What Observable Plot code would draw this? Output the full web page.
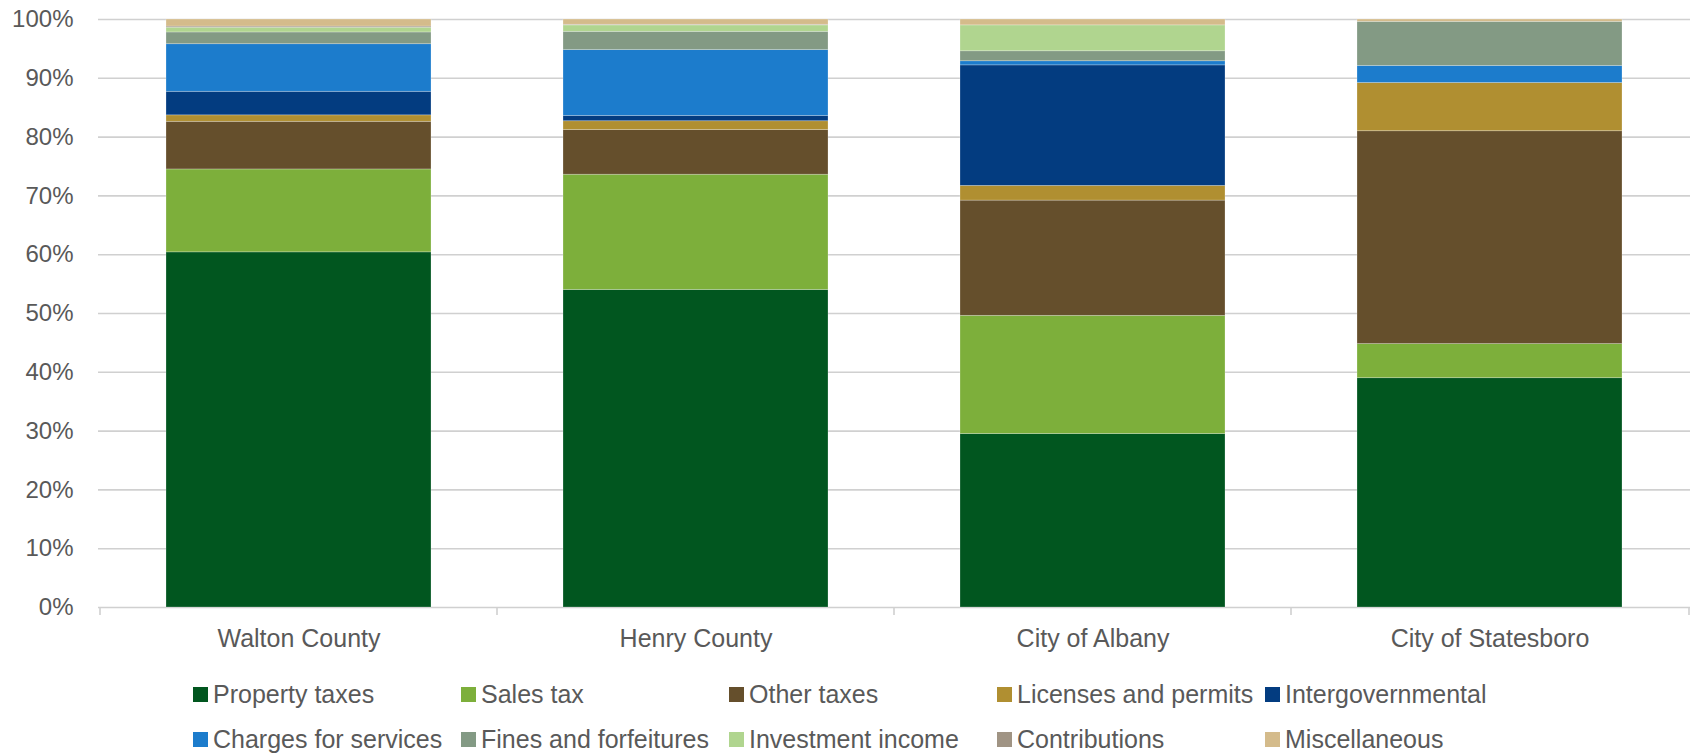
<!DOCTYPE html>
<html>
<head>
<meta charset="utf-8">
<script src="https://cdn.jsdelivr.net/npm/d3@7"></script>
<script src="https://cdn.jsdelivr.net/npm/@observablehq/plot@0.6"></script>
<style>
  html, body { margin: 0; padding: 0; background: #fff; }
  body { width: 1692px; height: 753px; overflow: hidden; font-family: "Liberation Sans", Arial, sans-serif; }
  #legend { position: relative; height: 93px; }
  .item { position: absolute; display: flex; align-items: center; font-size: 25px; color: #595959; white-space: nowrap; }
  .sw { width: 15px; height: 15px; margin-right: 5px; flex: none; }
</style>
</head>
<body>
<div id="chart"></div>
<div id="legend"></div>
<script>
const categories = ["Walton County", "Henry County", "City of Albany", "City of Statesboro"];
const seriesNames = ["Property taxes", "Sales tax", "Other taxes", "Licenses and permits", "Intergovernmental",
  "Charges for services", "Fines and forfeitures", "Investment income", "Contributions", "Miscellaneous"];
const seriesColors = ["#01561f", "#7daf3b", "#654f2c", "#b08f31", "#033c80",
  "#1c7ccc", "#839a84", "#b0d58f", "#a09484", "#d4bb8b"];
// percent shares, one value per category
const propertyTaxes       = [60.4, 54.0, 29.5, 39.0];
const salesTax            = [14.1, 19.6, 20.1, 5.8];
const otherTaxes          = [8.1, 7.6, 19.6, 36.2];
const licensesPermits     = [1.1, 1.5, 2.5, 8.2];
const intergovernmental   = [4.0, 0.9, 20.5, 0.0];
const chargesForServices  = [8.1, 11.2, 0.7, 2.9];
const finesForfeitures    = [2.0, 3.1, 1.7, 7.5];
const investmentIncome    = [0.8, 1.1, 4.4, 0.0];
const contributions       = [0.2, 0.1, 0.0, 0.0];
const miscellaneous       = [1.2, 0.9, 1.0, 0.4];
const yTicks = [0, 10, 20, 30, 40, 50, 60, 70, 80, 90, 100];

const seriesValues = [propertyTaxes, salesTax, otherTaxes, licensesPermits, intergovernmental,
  chargesForServices, finesForfeitures, investmentIncome, contributions, miscellaneous];

const rows = [];
seriesNames.forEach((s, i) => {
  categories.forEach((c, j) => rows.push({category: c, series: s, value: seriesValues[i][j]}));
});

const W = 1692, ML = 98, MR = 2;
const step = (W - ML - MR) / categories.length;

const plot = Plot.plot({
  width: W,
  height: 660,
  marginTop: 19,
  marginBottom: 53,
  marginLeft: ML,
  marginRight: MR,
  style: {fontFamily: '"Liberation Sans", Arial, sans-serif', fontSize: "24px", color: "#595959", background: "#fff"},
  x: {domain: categories, paddingInner: 0.333, paddingOuter: 0.1667, label: null},
  y: {domain: [0, 100], label: null},
  color: {domain: seriesNames, range: seriesColors},
  marks: [
    Plot.ruleY(yTicks, {stroke: "#d0d0d0", strokeWidth: 1.6}),
    Plot.ruleX(categories, {x: d => d, y1: 0, y2: 0, dx: -step / 2, insetBottom: -8, stroke: "#d0d0d0", strokeWidth: 1.6}),
    Plot.ruleX([categories[categories.length - 1]], {x: d => d, y1: 0, y2: 0, dx: step / 2, insetBottom: -8, stroke: "#d0d0d0", strokeWidth: 1.6}),
    Plot.barY(rows, Plot.stackY({order: seriesNames}, {
      x: "category", y: "value", fill: "series",
      stroke: "white", strokeOpacity: 0.3, strokeWidth: 0.8
    })),
    Plot.axisY({ticks: yTicks, tickFormat: d => d + "%", tickSize: 0, tickPadding: 25, fill: "#595959"}),
    Plot.axisX({tickSize: 0, tickPadding: 22, fill: "#595959", fontSize: 25})
  ]
});
document.getElementById("chart").appendChild(plot);

const legend = document.getElementById("legend");
const colX = [193, 461, 729, 997, 1265];
const rowY = [34, 79];
seriesNames.forEach((s, i) => {
  const el = document.createElement("div");
  el.className = "item";
  el.style.left = colX[i % 5] + "px";
  el.style.top = (rowY[Math.floor(i / 5)] - 14) + "px";
  el.style.height = "28px";
  el.innerHTML = `<span class="sw" style="background:${seriesColors[i]}"></span><span>${s}</span>`;
  legend.appendChild(el);
});
</script>
</body>
</html>
